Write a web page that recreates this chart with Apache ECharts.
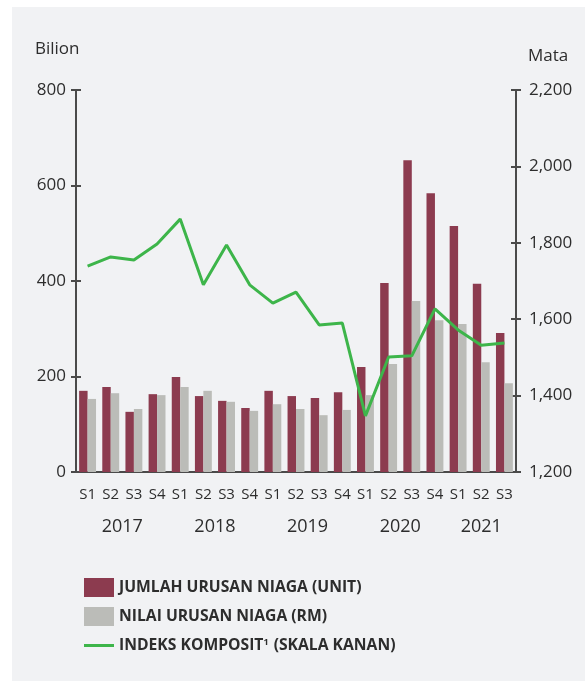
<!DOCTYPE html>
<html>
<head>
<meta charset="utf-8">
<script src="https://cdn.jsdelivr.net/npm/echarts@6/dist/echarts.min.js"></script>
<style>
  html, body { margin: 0; padding: 0; background: #ffffff; }
  .panel { position: absolute; left: 12px; top: 7px; right: 0; bottom: 0; background: #f1f2f4; }
  #chart { position: absolute; left: 0; top: 0; width: 585px; height: 681px; }
</style>
</head>
<body>
<div class="panel"></div>
<div id="chart"></div>
<script>
  // suku tahun (S1..S4) dan tahun
  const quarters = ['S1', 'S2', 'S3', 'S4', 'S1', 'S2', 'S3', 'S4', 'S1', 'S2', 'S3', 'S4',
    'S1', 'S2', 'S3', 'S4', 'S1', 'S2', 'S3']
  const years = ['2017', '2018', '2019', '2020', '2021']
  const quartersPerYear = [4, 4, 4, 4, 3]

  // jumlah urusan niaga (unit) - skala kiri
  const jumlahUnit = [170, 178, 126, 163, 199, 159, 149, 134, 170, 159, 155, 167,
    220, 396, 653, 584, 515, 394, 291]
  // nilai urusan niaga (RM bilion) - skala kiri
  const nilaiRm = [153, 165, 132, 161, 178, 170, 147, 128, 142, 132, 119, 130,
    161, 226, 358, 318, 310, 230, 186]
  // indeks komposit - skala kanan
  const indeksKomposit = [1739, 1763, 1755, 1797, 1862, 1690, 1794, 1690, 1642, 1671, 1585, 1590,
    1347, 1501, 1504, 1627, 1572, 1532, 1538]

  const leftTicks = [0, 200, 400, 600, 800]
  const rightTicks = [1200, 1400, 1600, 1800, 2000, 2200]

  const TEXT = '#2d2d2d'
  const AXIS = '#4a4a4a'
  const FONT = 'Open Sans'

  // paksi tahun: titik separuh kategori, label di tengah setiap kumpulan
  const yearSlots = new Array(quarters.length * 2 + 1).fill('')
  let start = 0
  years.forEach((y, i) => {
    yearSlots[start * 2 + quartersPerYear[i]] = y
    start += quartersPerYear[i]
  })

  const chart = echarts.init(document.getElementById('chart'), null, { renderer: 'canvas' })

  const leftAxisBase = {
    type: 'value',
    min: leftTicks[0],
    max: leftTicks[leftTicks.length - 1],
    interval: 200,
    splitLine: { show: false }
  }
  const rightAxisBase = {
    type: 'value',
    min: rightTicks[0],
    max: rightTicks[rightTicks.length - 1],
    interval: 200,
    splitLine: { show: false }
  }

  chart.setOption({
    animation: false,
    backgroundColor: 'transparent',
    textStyle: { fontFamily: FONT },
    grid: { left: 76, right: 69, top: 90, bottom: 209, containLabel: false },
    graphic: [
      { type: 'text', left: 35, top: 41, style: { text: 'Bilion', fontSize: 17, fontFamily: FONT, fill: TEXT } },
      { type: 'text', left: 528, top: 48, style: { text: 'Mata', fontSize: 17, fontFamily: FONT, fill: TEXT } }
    ],
    legend: {
      orient: 'vertical',
      left: 79,
      top: 573,
      itemWidth: 30,
      itemHeight: 19,
      itemGap: 10,
      formatter: name => name.replace('¹', '{s|1}'),
      textStyle: {
        fontFamily: FONT, fontSize: 15.7, fontWeight: 'bold', color: TEXT,
        rich: {
          s: { fontFamily: FONT, fontSize: 9, fontWeight: 'bold', color: TEXT, verticalAlign: 'top', padding: [0, 1, 0, 0] }
        }
      },
      data: [
        { name: 'JUMLAH URUSAN NIAGA (UNIT)', icon: 'rect' },
        { name: 'NILAI URUSAN NIAGA (RM)', icon: 'rect' },
        { name: 'INDEKS KOMPOSIT¹ (SKALA KANAN)', icon: 'path://M0,0 M0,8 L30,8 L30,11 L0,11 Z M30,19' }
      ]
    },
    xAxis: [
      {
        type: 'category',
        data: quarters,
        axisLine: { lineStyle: { color: AXIS, width: 2 } },
        axisTick: { show: false },
        axisLabel: { interval: 0, margin: 15, fontSize: 15, color: TEXT, fontFamily: FONT }
      },
      {
        type: 'category',
        position: 'bottom',
        boundaryGap: false,
        data: yearSlots,
        axisLine: { show: false },
        axisTick: { show: false },
        axisLabel: { interval: 0, margin: 46, fontSize: 18, color: TEXT, fontFamily: FONT }
      }
    ],
    yAxis: [
      Object.assign({}, leftAxisBase, {
        position: 'left',
        axisLine: { show: true, lineStyle: { color: AXIS, width: 2 } },
        axisTick: { show: true, length: 5, lineStyle: { color: AXIS, width: 2 } },
        axisLabel: { margin: 10, fontSize: 17, color: TEXT, fontFamily: FONT }
      }),
      Object.assign({}, rightAxisBase, {
        position: 'right',
        axisLine: { show: true, lineStyle: { color: AXIS, width: 2 } },
        axisTick: { show: true, length: 5, lineStyle: { color: AXIS, width: 2 } },
        axisLabel: {
          margin: 13, fontSize: 17, color: TEXT, fontFamily: FONT,
          formatter: v => v.toLocaleString('en-US')
        }
      }),
      // tanda tik ke dalam supaya tik melintasi paksi
      Object.assign({}, leftAxisBase, {
        position: 'left',
        axisLine: { show: false },
        axisTick: { show: true, inside: true, length: 5, lineStyle: { color: AXIS, width: 2 } },
        axisLabel: { show: false }
      }),
      Object.assign({}, rightAxisBase, {
        position: 'right',
        axisLine: { show: false },
        axisTick: { show: true, inside: true, length: 5, lineStyle: { color: AXIS, width: 2 } },
        axisLabel: { show: false }
      })
    ],
    series: [
      {
        name: 'JUMLAH URUSAN NIAGA (UNIT)',
        type: 'bar',
        data: jumlahUnit,
        itemStyle: { color: '#8c3b4f' },
        barGap: 0,
        barCategoryGap: '27%'
      },
      {
        name: 'NILAI URUSAN NIAGA (RM)',
        type: 'bar',
        data: nilaiRm,
        itemStyle: { color: '#bbbcb8' },
        barGap: 0,
        barCategoryGap: '27%'
      },
      {
        name: 'INDEKS KOMPOSIT¹ (SKALA KANAN)',
        type: 'line',
        yAxisIndex: 1,
        data: indeksKomposit,
        symbol: 'none',
        lineStyle: { color: '#3db54a', width: 3 },
        itemStyle: { color: '#3db54a' },
        z: 5
      }
    ]
  })
</script>
</body>
</html>
